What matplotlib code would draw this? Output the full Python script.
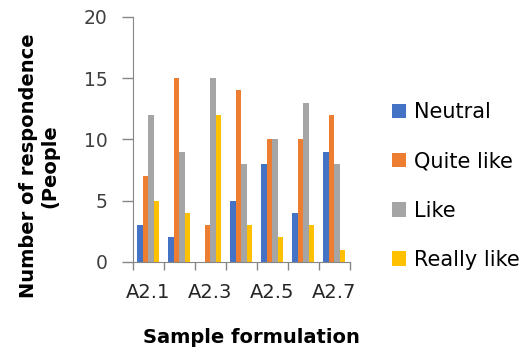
import numpy as np
import matplotlib
matplotlib.use('Agg')
import matplotlib.pyplot as plt

plt.rcParams['font.family'] = ['DejaVu Sans']

samples = ['A2.1', 'A2.2', 'A2.3', 'A2.4', 'A2.5', 'A2.6', 'A2.7']
neutral = [3, 2, 0, 5, 8, 4, 9]
quite_like = [7, 15, 3, 14, 10, 10, 12]
like = [12, 9, 15, 8, 10, 13, 8]
really_like = [5, 4, 12, 3, 2, 3, 1]

series = [('Neutral', neutral, '#4472C4'),
          ('Quite like', quite_like, '#ED7D31'),
          ('Like', like, '#A5A5A5'),
          ('Really like', really_like, '#FFC000')]

fig = plt.figure(figsize=(5.31, 3.53), dpi=100)
ax = fig.add_axes([0.250, 0.258, 0.409, 0.694])

x = np.arange(len(samples))
w = 0.178
for k, (name, vals, col) in enumerate(series):
    ax.bar(x + (k - 1.5) * w, vals, width=w, color=col, label=name)

ax.set_ylim(0, 20)
ax.set_yticks([0, 5, 10, 15, 20])
ax.set_xlim(-0.5, len(samples) - 0.5)
ax.set_xticks(x)
ax.set_xticklabels([s if i % 2 == 0 else '' for i, s in enumerate(samples)])
ax.set_xticks(np.arange(-0.5, len(samples)), minor=True)
ax.tick_params(axis='x', which='major', length=0, pad=15, labelsize=14, colors='#262626')
ax.tick_params(axis='x', which='minor', length=6, color='#868686', width=1)
ax.tick_params(axis='y', length=8, color='#868686', width=1, pad=10, labelsize=13.5, labelcolor='#404040')

for s in ['top', 'right']:
    ax.spines[s].set_visible(False)
for s in ['left', 'bottom']:
    ax.spines[s].set_color('#868686')

# axis titles placed like the original (shifted off the axes centre)
fig.text(0.073, 0.53, 'Number of respondence\n(People', rotation=90, ha='center', va='center',
         fontsize=14, fontweight='bold', linespacing=1.15, multialignment='center')
fig.text(0.473, 0.045, 'Sample formulation', ha='center', va='center',
         fontsize=14, fontweight='bold')

fig.legend(loc='center left', bbox_to_anchor=(0.718, 0.473), frameon=False,
           fontsize=15, handlelength=0.7, handleheight=0.7, handletextpad=0.35,
           labelspacing=1.4, borderpad=0)

fig.savefig('out.png', dpi=100)
